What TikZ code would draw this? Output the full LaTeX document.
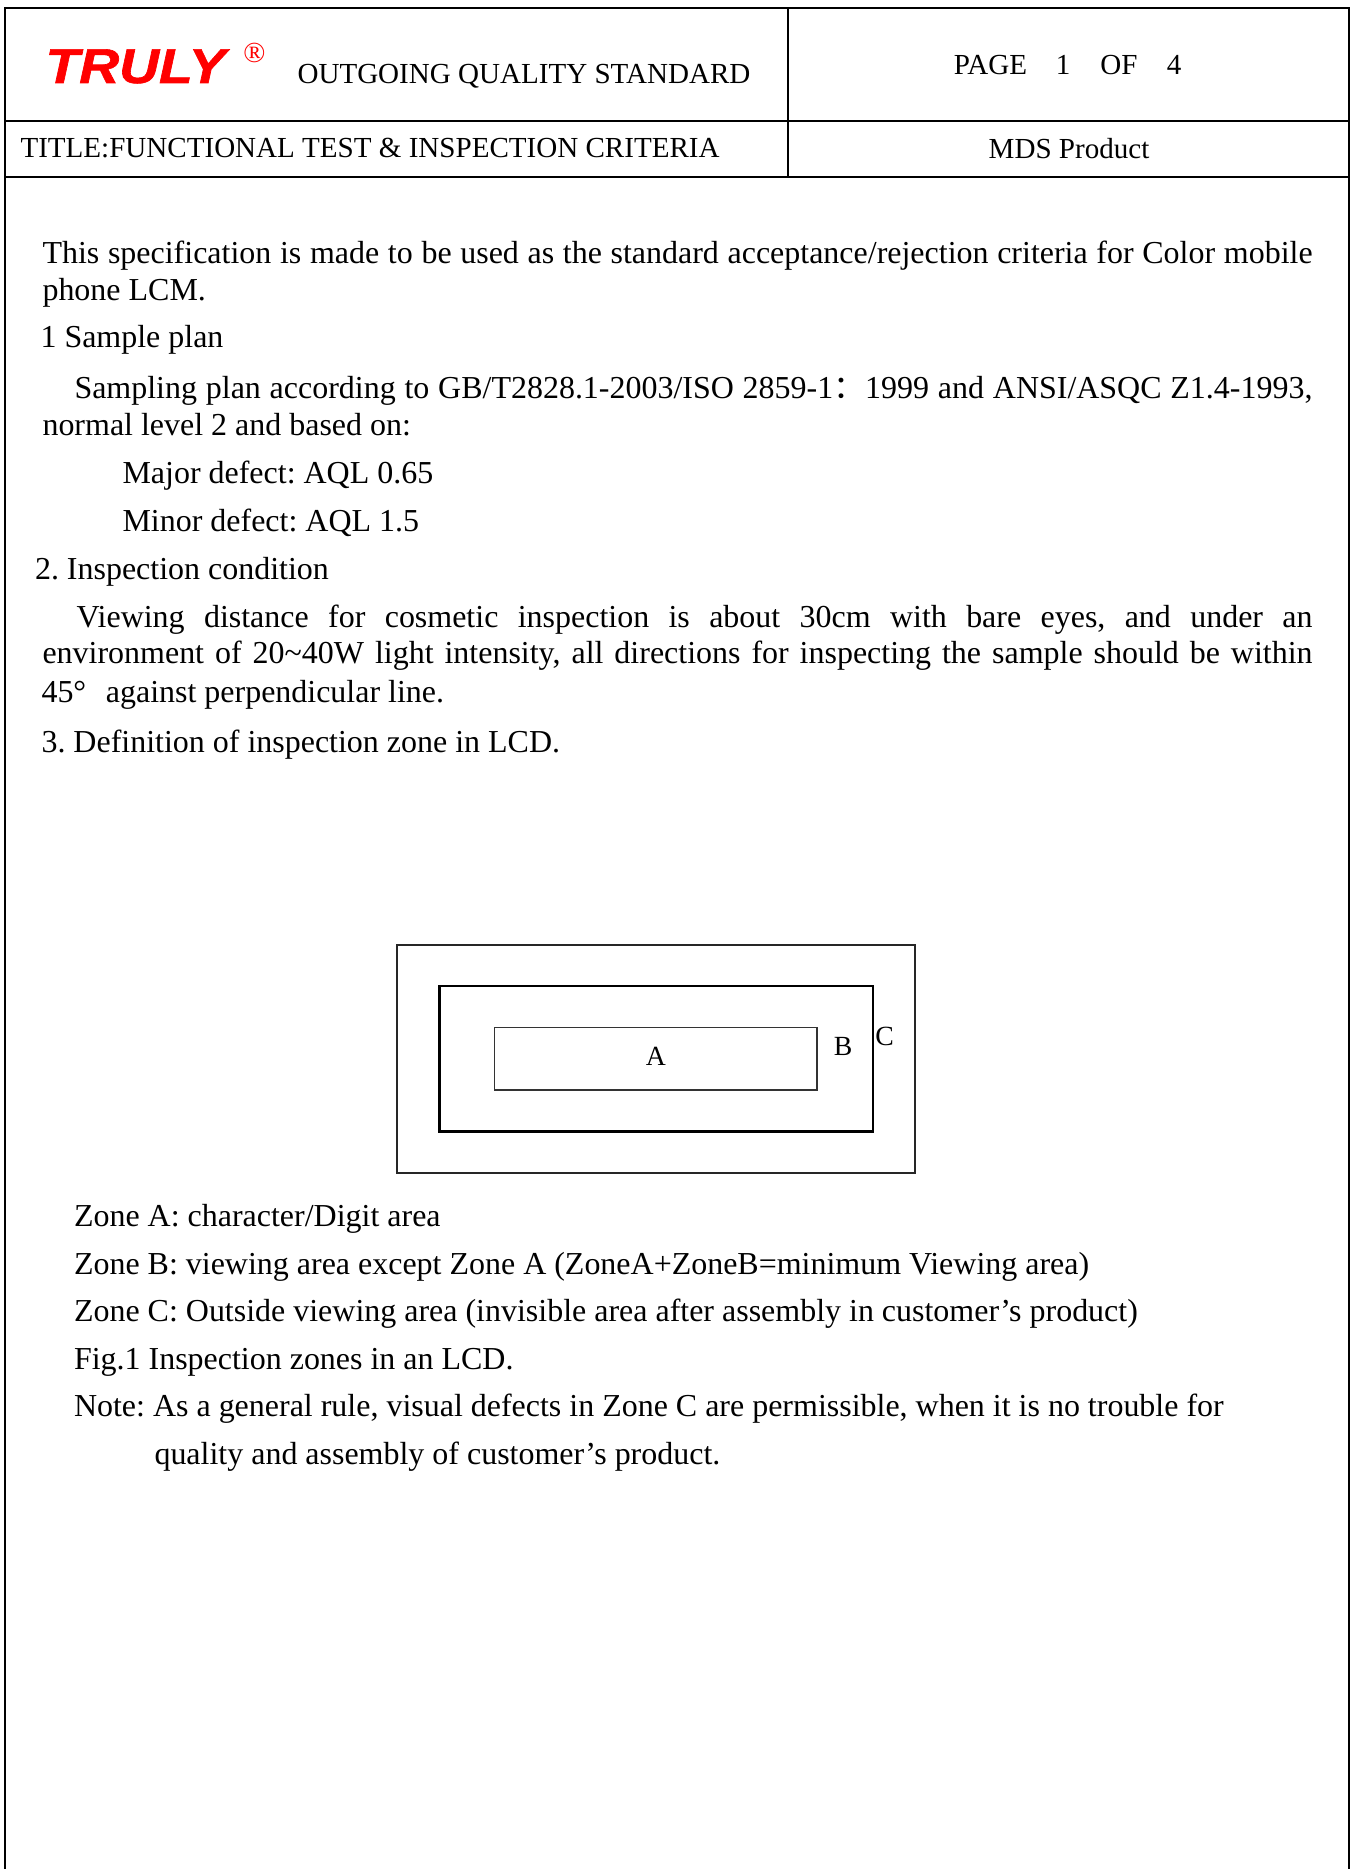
\documentclass[tikz,border=0pt]{standalone}
\usepackage{graphicx}
\usepackage{fontspec}
\setmainfont{Liberation Serif}
\newfontfamily\logofont{Liberation Sans}[BoldItalicFeatures={FakeBold=1.2}]
\newfontfamily\cjk{Noto Sans CJK SC}
\newdimen\pxu \pxu=0.3785pt
\frenchspacing
\tikzset{
  frame/.style={line width=0.76pt, black},
  txt/.style={anchor=base west, inner sep=0pt, font=\fontsize{12.1}{14}\selectfont\frenchspacing},
  hdr/.style={inner sep=0pt, font=\fontsize{11}{13}\selectfont},
  zoneC/.style={draw, line width=0.76pt, black!85},
  zoneB/.style={draw, line width=0.9pt, black},
  zoneA/.style={draw, line width=0.6pt, black!80},
  lbl/.style={inner sep=0pt, font=\fontsize{10.5}{12}\selectfont},
}
\begin{document}
\begin{tikzpicture}[x=0.3785pt, y=-0.3785pt]
\useasboundingbox (0,0) rectangle (1351,1869);
% frame and header table
\draw[frame] (5,1869) -- (5,8) -- (1349,8) -- (1349,1869);
\draw[frame] (5,121.5) -- (1349,121.5);
\draw[frame] (5,177) -- (1349,177);
\draw[frame] (788,8) -- (788,177);
% header contents
\node[anchor=base west, inner sep=0pt, text=red, font=\logofont\bfseries\itshape\fontsize{18.5}{20}\selectfont] (logo) at (45,83) {\scalebox{1.13}[1]{TRULY}};
\node[text=red, inner sep=0pt, font=\fontsize{11}{12}\selectfont] (reg) at (254.5,52.5) {®};
\node[hdr, anchor=base west] (oqs) at (297,84) {OUTGOING QUALITY STANDARD};
\node[hdr, anchor=base] (pg) at (990.5,75) {PAGE};
\node[hdr, anchor=base] (pgn) at (1063,75) {1};
\node[hdr, anchor=base] (pgof) at (1119,75) {OF};
\node[hdr, anchor=base] (pgt) at (1174,75) {4};
\node[hdr, anchor=base west] (title) at (20,158) {TITLE:FUNCTIONAL TEST \& INSPECTION CRITERIA};
\node[hdr, anchor=base] (mds) at (1069,159) {MDS Product};
% body
\node[txt] (l1) at (42,264) {\hbox to 1270\pxu{This specification is made to be used as the standard acceptance/rejection criteria for Color mobile}};
\node[txt] (l2) at (42,301) {phone LCM.};
\node[txt] (l3) at (40,348) {1 Sample plan};
\node[txt] (l4) at (74,399) {\hbox to 1238\pxu{Sampling plan according to GB/T2828.1-2003/ISO 2859-1{\cjk ：}1999 and ANSI/ASQC Z1.4-1993,}};
\node[txt] (l5) at (42,436) {normal level 2 and based on:};
\node[txt] (l6) at (122,484) {Major defect: AQL 0.65};
\node[txt] (l7) at (122,531) {Minor defect: AQL 1.5};
\node[txt] (l8) at (34.5,579) {2. Inspection condition};
\node[txt] (l9) at (76,627) {\hbox to 1236\pxu{Viewing distance for cosmetic inspection is about 30cm with bare eyes, and under an}};
\node[txt] (l10) at (42,663) {\hbox to 1270\pxu{environment of 20\textasciitilde40W light intensity, all directions for inspecting the sample should be within}};
\node[txt] (l11) at (41,702) {45°\hspace{19.6\pxu}against perpendicular line.};
\node[txt] (l12) at (41,752) {3. Definition of inspection zone in LCD.};
% figure
\draw[zoneC] (396.5,944.5) rectangle (915,1173);
\draw[zoneB] (439.5,986) rectangle (873,1131.5);
\draw[zoneA] (494.5,1027.5) rectangle (817,1090);
\node[lbl] (la) at (656,1056) {A};
\node[lbl] (lb) at (843,1046) {B};
\node[lbl] (lc) at (884.5,1036) {C};
% zone descriptions
\node[txt] (za) at (73.5,1226) {Zone A: character/Digit area};
\node[txt] (zb) at (73.5,1274) {Zone B: viewing area except Zone A (ZoneA+ZoneB=minimum Viewing area)};
\node[txt] (zc) at (73.5,1321) {Zone C: Outside viewing area (invisible area after assembly in customer’s product)};
\node[txt] (fig) at (73.5,1369) {Fig.1 Inspection zones in an LCD.};
\node[txt] (note) at (73.5,1416) {Note: As a general rule, visual defects in Zone C are permissible, when it is no trouble for};
\node[txt] (note2) at (154,1464) {quality and assembly of customer’s product.};
\end{tikzpicture}
\end{document}
